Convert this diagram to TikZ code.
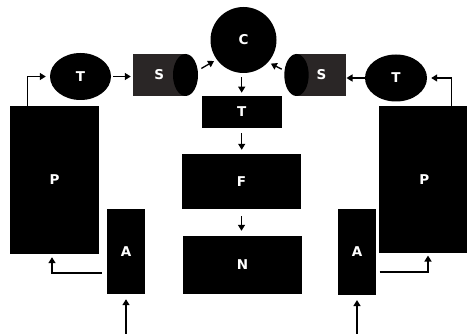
\documentclass[tikz,border=0pt]{standalone}
\usepackage{fontspec}
\setmainfont{DejaVu Sans}
\usetikzlibrary{shapes.geometric,arrows.meta}
\definecolor{cylgray}{HTML}{2A2626}
\begin{document}
\begin{tikzpicture}[x=1pt,y=-1pt,
  blk/.style={fill=black,draw=none,text=white,inner sep=0pt,
    font=\bfseries\fontsize{13.5}{15}\selectfont},
  boxn/.style={blk,rectangle},
  ovaln/.style={blk,ellipse},
  body/.style={blk,rectangle,fill=cylgray},
  capn/.style={fill=black,draw=none,ellipse,inner sep=0pt},
  arr/.style={line width=1.3pt,-{Triangle[length=6pt,width=7pt]}},
]
\useasboundingbox (0,0) rectangle (467,334);
% left side
\node[boxn,minimum width=89pt,minimum height=148pt] (PL) at (54.5,180) {P};
\node[boxn,minimum width=38pt,minimum height=85pt] (AL) at (126,251.5) {A};
\node[ovaln,minimum width=61pt,minimum height=47pt] (TL) at (80.5,76.5) {T};
\node[body,minimum width=52.5pt,minimum height=42pt] (SL) at (159.25,75) {S};
\node[capn,minimum width=25pt,minimum height=42pt] (SLc) at (185.5,75) {};
% centre
\node[blk,circle,minimum size=66pt] (C) at (243.5,40) {C};
\node[boxn,minimum width=80pt,minimum height=32.3pt] (TC) at (241.7,112) {T};
\node[boxn,minimum width=119pt,minimum height=55pt] (F) at (241.5,181.5) {F};
\node[boxn,minimum width=118.4pt,minimum height=58pt] (N) at (242.5,265) {N};
% right side
\node[body,minimum width=49.8pt,minimum height=42pt] (SR) at (321.4,75) {S};
\node[capn,minimum width=24.4pt,minimum height=42pt] (SRc) at (296.5,75) {};
\node[ovaln,minimum width=62pt,minimum height=47pt] (TR) at (396,78) {T};
\node[boxn,minimum width=90pt,minimum height=147.3pt] (PR) at (424.3,179.7) {P};
\node[boxn,minimum width=38.6pt,minimum height=85.7pt] (AR) at (357,252) {A};
% inputs
\coordinate (inL) at (126,334);
\coordinate (inR) at (357,334);
% connectors
\draw[arr,shorten >=4pt] ([xshift=18pt]PL.north west) |- (TL.west);
\draw[arr,shorten <=2pt,shorten >=2pt] (TL.east) -- (TL.east -| SL.west);
\draw[arr,shorten <=4pt,shorten >=3pt] (SLc.20) -- (C.216);
\draw[arr,shorten >=4pt] ([xshift=-18.3pt]PR.north east) |- (TR.east);
\draw[arr] (TR.west) -- (TR.west -| SR.east);
\draw[arr,shorten <=3pt,shorten >=3pt] (SRc.160) -- (C.318);
\draw[arr,shorten <=4pt,shorten >=3pt] (C.south -| TC.north) -- (TC.north);
\draw[arr,shorten <=5pt,shorten >=4pt] (TC.south) -- (TC.south |- F.north);
\draw[arr,shorten <=7pt,shorten >=5pt] (F.south) -- (F.south |- N.north);
\draw[arr,shorten <=5pt,shorten >=3pt] ([yshift=-21.5pt]AL.west) -| ([xshift=-2.5pt]PL.south);
\draw[arr,shorten <=3pt,shorten >=2pt] ([yshift=-20pt]AR.east) -| ([xshift=3.7pt]PR.south);
\draw[arr,shorten >=5pt] (inL) -- (AL.south);
\draw[arr,shorten >=5pt] (inR) -- (AR.south);
\end{tikzpicture}
\end{document}
